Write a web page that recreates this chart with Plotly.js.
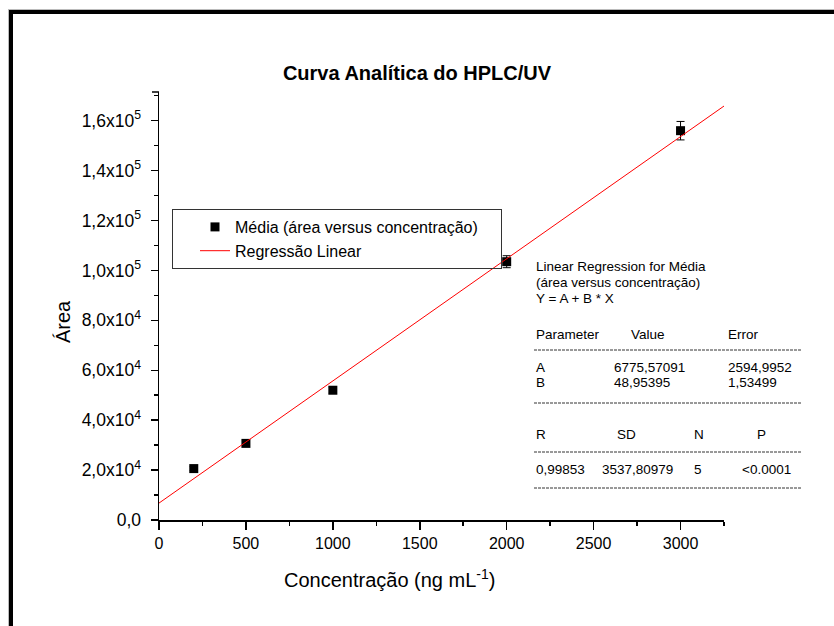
<!DOCTYPE html>
<html>
<head>
<meta charset="utf-8">
<script src="https://cdn.plot.ly/plotly-3.0.1.min.js"></script>
<style>
html,body{margin:0;padding:0;background:#fff;overflow:hidden;}
#wrap{position:relative;width:834px;height:626px;overflow:hidden;}
#chart{width:834px;height:626px;}
#frame{position:absolute;left:9px;top:10px;width:900px;height:900px;border-left:4px solid #000;border-top:4px solid #000;
  box-shadow:-1px -1px 0 #bbb;pointer-events:none;}
</style>
</head>
<body>
<div id="wrap"><div id="chart"></div><div id="frame"></div></div>
<script>
// ---- data ----
const concentracao = [200, 500, 1000, 2000, 3000];
const areaMedia = [20600, 30700, 52000, 103500, 156000];
const areaErro = [800, 1000, 1200, 2400, 3700];
const regA = 6775.57091;
const regB = 48.95395;
const fitX = [0, 3250];
const xTickVals = [0, 500, 1000, 1500, 2000, 2500, 3000];
const yTickVals = [0, 20000, 40000, 60000, 80000, 100000, 120000, 140000, 160000];
const yTickText = ["0,0", "2,0x10<sup>4</sup>", "4,0x10<sup>4</sup>", "6,0x10<sup>4</sup>", "8,0x10<sup>4</sup>",
                   "1,0x10<sup>5</sup>", "1,2x10<sup>5</sup>", "1,4x10<sup>5</sup>", "1,6x10<sup>5</sup>"];
const seriesNames = ["Média (área versus concentração)", "Regressão Linear"];
const headerLines = ["Linear Regression for Média", "(área versus concentração)", "Y = A + B * X"];
const paramHeader = ["Parameter", "Value", "Error"];
const paramRows = [["A", "6775,57091", "2594,9952"], ["B", "48,95395", "1,53499"]];
const statHeader = ["R", "SD", "N", "P"];
const statRow = ["0,99853", "3537,80979", "5", "<0.0001"];
const titleText = "Curva Analítica do HPLC/UV";
const xTitle = "Concentração (ng mL<sup>-1</sup>)";
const yTitle = "Área";

// ---- layout geometry ----
const W = 834, H = 626;
const L = 159, R = 724, T = 92, B = 520;
const px = p => (p - L) / (R - L);
const py = p => (B - p) / (B - T);
const FONT = "Arial, 'Liberation Sans', sans-serif";
const PAD = '\u00a0\u00a0\u00a0\u00a0';

const fitY = fitX.map(x => regA + regB * x);

const traces = [
  {
    x: concentracao, y: areaMedia, type: 'scatter', mode: 'markers',
    name: seriesNames[0] + PAD,
    marker: {symbol: 'square', size: 9, color: '#000'},
    error_y: {type: 'data', array: areaErro, visible: true, color: '#000', thickness: 1, width: 4}
  },
  {
    x: fitX, y: fitY, type: 'scatter', mode: 'lines',
    name: seriesNames[1],
    line: {color: '#ff0000', width: 1}
  }
];

const ann = [];
function addText(text, x, y, anchor) {
  ann.push({text: text, xref: 'paper', yref: 'paper', x: px(x), y: py(y),
    xanchor: anchor || 'left', yanchor: 'middle', showarrow: false,
    font: {family: FONT, size: 13.5, color: '#000'}});
}
headerLines.forEach((t, i) => addText(t, 534, [266, 282, 298][i]));
const pX = [534, 629, 726];
paramHeader.forEach((t, i) => addText(t, pX[i], 334));
const vX = [534, 612, 726];
paramRows.forEach((row, r) => row.forEach((t, i) => addText(t, vX[i], [367, 382][r])));
const sX = [534, 615, 692, 755];
statHeader.forEach((t, i) => addText(t, sX[i], 434));
const svX = [534, 600, 692, 740];
statRow.forEach((t, i) => addText(t, svX[i], 469));

// axis titles (placed as in the reference, off-centre)
ann.push({text: xTitle, xref: 'paper', yref: 'paper', x: px(389), y: py(578), xanchor: 'center', yanchor: 'middle',
  showarrow: false, font: {family: FONT, size: 20, color: '#000'}});
ann.push({text: yTitle, xref: 'paper', yref: 'paper', x: px(63), y: py(322), xanchor: 'center', yanchor: 'middle',
  textangle: -90, showarrow: false, font: {family: FONT, size: 20, color: '#000'}});

const shapes = [];
[350, 403, 452, 488].forEach(yy => shapes.push({
  type: 'line', xref: 'paper', yref: 'paper', x0: px(534), x1: px(802), y0: py(yy), y1: py(yy),
  line: {color: '#333', width: 1, dash: '3px,1px'}
}));
// end tick at top of y axis
shapes.push({type: 'line', xref: 'paper', yref: 'paper', xsizemode: 'pixel', xanchor: 0,
  x0: -7, x1: 0, y0: 1, y1: 1, line: {color: '#000', width: 1.5}});

const layout = {
  width: W, height: H,
  margin: {l: L, r: W - R, t: T, b: H - B, pad: 0},
  paper_bgcolor: '#fff', plot_bgcolor: '#fff',
  font: {family: FONT, color: '#000'},
  title: {text: '<b>' + titleText + '</b>', font: {family: FONT, size: 20, color: '#000'},
    x: 0.5, xanchor: 'center', y: 1 - 73 / H, yanchor: 'middle', yref: 'container'},
  xaxis: {
    range: [0, 3250], tickvals: xTickVals, ticks: 'outside', ticklen: 8, tickwidth: 1.5, tickcolor: '#000',
    showline: true, linewidth: 1.5, linecolor: '#000', showgrid: false, zeroline: false,
    tickfont: {family: FONT, size: 16, color: '#000'},
    minor: {dtick: 250, ticks: 'outside', ticklen: 4, tickwidth: 1.5, tickcolor: '#000', showgrid: false},
    automargin: false
  },
  yaxis: {
    range: [0, 171500], tickvals: yTickVals, ticktext: yTickText, ticks: 'outside', ticklen: 7, tickwidth: 1.5, tickcolor: '#000',
    showline: true, linewidth: 1.5, linecolor: '#000', showgrid: false, zeroline: false,
    tickfont: {family: FONT, size: 17.5, color: '#000'}, ticklabelstandoff: 6,
    minor: {dtick: 10000, ticks: 'outside', ticklen: 4, tickwidth: 1.5, tickcolor: '#000', showgrid: false},
    automargin: false
  },
  showlegend: true,
  legend: {x: px(172), y: py(209), xanchor: 'left', yanchor: 'top', bgcolor: 'rgba(255,255,255,0)',
    bordercolor: '#333', borderwidth: 1, font: {family: FONT, size: 16, color: '#000'},
    indentation: 22, tracegroupgap: 0},
  annotations: ann,
  shapes: shapes
};

Plotly.newPlot('chart', traces, layout, {displayModeBar: false, staticPlot: true});
</script>
</body>
</html>
